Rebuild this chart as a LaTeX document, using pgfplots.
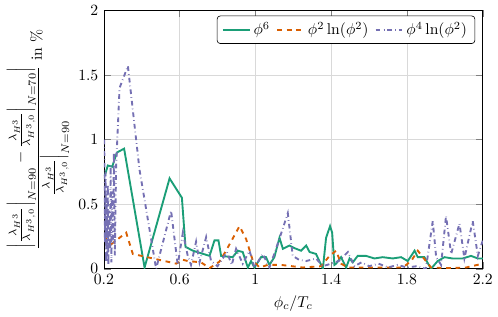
\documentclass[border={1pt 0pt 0pt 0pt}]{standalone}
\usepackage{amsmath}
\usepackage{pgfplots}
\pgfplotsset{compat=1.18}
\definecolor{cgreen}{HTML}{1B9E77}
\definecolor{corange}{HTML}{D95F02}
\definecolor{cpurple}{HTML}{7570B3}
\newcommand{\rat}{\frac{\lambda_{H^3}}{\lambda_{H^3,0}}}
\begin{document}
\begin{tikzpicture}
\begin{axis}[
  scale only axis,
  width=242pt, height=165pt,
  xmin=0.2, xmax=2.2, ymin=0, ymax=2,
  xtick={0.2,0.6,1,1.4,1.8,2.2},
  xticklabels={0.2,0.6,1,1.4,1.8,2.2},
  ytick={0,0.5,1,1.5,2},
  yticklabels={0,0.5,1,1.5,2},
  grid=major,
  grid style={gray!30},
  xlabel={$\phi_c/T_c$},
  ylabel={$\dfrac{\Big|\rat\Big|_{N=90}-\rat\Big|_{N=70}\Big|}{\rat\Big|_{N=90}}$ in \%},
  ylabel style={yshift=-1pt},
  legend columns=3,
  legend style={at={(0.98,0.98)}, anchor=north east, rounded corners=2pt,
    draw=black, /tikz/every even column/.append style={column sep=2pt}},
  legend image post style={line width=1.2pt},
]
\addplot[color=cgreen, solid, line width=1.2pt] coordinates {
(0.205,0.72) (0.221,0.80) (0.244,0.79) (0.269,0.90) (0.307,0.93) (0.415,0.01)
(0.547,0.70) (0.612,0.55) (0.631,0.17) (0.67,0.14) (0.758,0.10) (0.784,0.22)
(0.805,0.22) (0.819,0.10) (0.88,0.09) (0.907,0.14) (0.933,0.13) (0.96,0.01)
(0.977,0.06) (0.995,0.01) (1.03,0.09) (1.056,0.09) (1.074,0.03) (1.10,0.09)
(1.127,0.24) (1.145,0.155) (1.18,0.18) (1.206,0.16) (1.241,0.14) (1.268,0.18)
(1.286,0.13) (1.32,0.115) (1.347,0.03) (1.356,0.0) (1.373,0.24) (1.394,0.33)
(1.405,0.28) (1.417,0.03) (1.426,0.04) (1.452,0.09) (1.479,0.01) (1.497,0.08)
(1.514,0.05) (1.54,0.10) (1.584,0.10) (1.628,0.08) (1.672,0.09) (1.725,0.08)
(1.769,0.09) (1.804,0.06) (1.84,0.14) (1.857,0.09) (1.892,0.09) (1.927,0.0)
(1.962,0.06) (1.998,0.09) (2.04,0.08) (2.094,0.08) (2.138,0.10) (2.174,0.08)
(2.2,0.08)
};
\addlegendentry{$\phi^6$}
\addplot[color=corange, dashed, line width=1.2pt] coordinates {
(0.204,0.245) (0.239,0.19) (0.318,0.28) (0.353,0.115) (0.459,0.08) (0.582,0.04)
(0.617,0.07) (0.643,0.06) (0.713,0.05) (0.758,0.005) (0.81,0.055) (0.845,0.14)
(0.916,0.33) (0.951,0.23) (0.986,0.065) (1.022,0.01) (1.065,0.03) (1.136,0.03)
(1.25,0.01) (1.347,0.02) (1.391,0.10) (1.426,0.14) (1.452,0.04) (1.488,0.01)
(1.584,0.01) (1.672,0.01) (1.778,0.01) (1.822,0.06) (1.857,0.14) (1.90,0.06)
(1.927,0.01) (2.024,0.005) (2.112,0.01) (2.2,0.04)
};
\addlegendentry{$\phi^2\ln(\phi^2)$}
\addplot[color=cpurple, dashdotted, line width=1.2pt] coordinates {
(0.202,1.0) (0.206,0.2) (0.209,0.75) (0.212,0.05) (0.215,0.55) (0.218,0.1)
(0.221,0.65) (0.224,0.03) (0.228,0.45) (0.232,0.15) (0.236,0.8) (0.240,0.05)
(0.244,0.6) (0.248,0.2) (0.253,0.9) (0.258,0.1) (0.265,0.8) (0.283,1.40)
(0.327,1.57) (0.388,0.77) (0.476,0.0) (0.555,0.45) (0.59,0.03) (0.617,0.28)
(0.643,0.10) (0.66,0.03) (0.687,0.21) (0.705,0.05) (0.74,0.245) (0.766,0.06)
(0.80,0.02) (0.85,0.13) (0.875,0.03) (0.898,0.155) (0.933,0.04) (0.969,0.14)
(0.995,0.01) (1.039,0.115) (1.074,0.01) (1.109,0.155) (1.171,0.43) (1.197,0.10)
(1.23,0.07) (1.268,0.06) (1.32,0.08) (1.356,0.02) (1.40,0.04) (1.44,0.06)
(1.488,0.13) (1.523,0.02) (1.56,0.05) (1.60,0.02) (1.65,0.04) (1.70,0.01)
(1.75,0.03) (1.80,0.01) (1.85,0.02) (1.90,0.0) (1.936,0.37) (1.954,0.09)
(1.98,0.03) (2.006,0.41) (2.033,0.115) (2.077,0.35) (2.103,0.08) (2.147,0.37)
(2.174,0.10) (2.2,0.22)
};
\addlegendentry{$\phi^4\ln(\phi^2)$}
\end{axis}
\end{tikzpicture}
\end{document}
